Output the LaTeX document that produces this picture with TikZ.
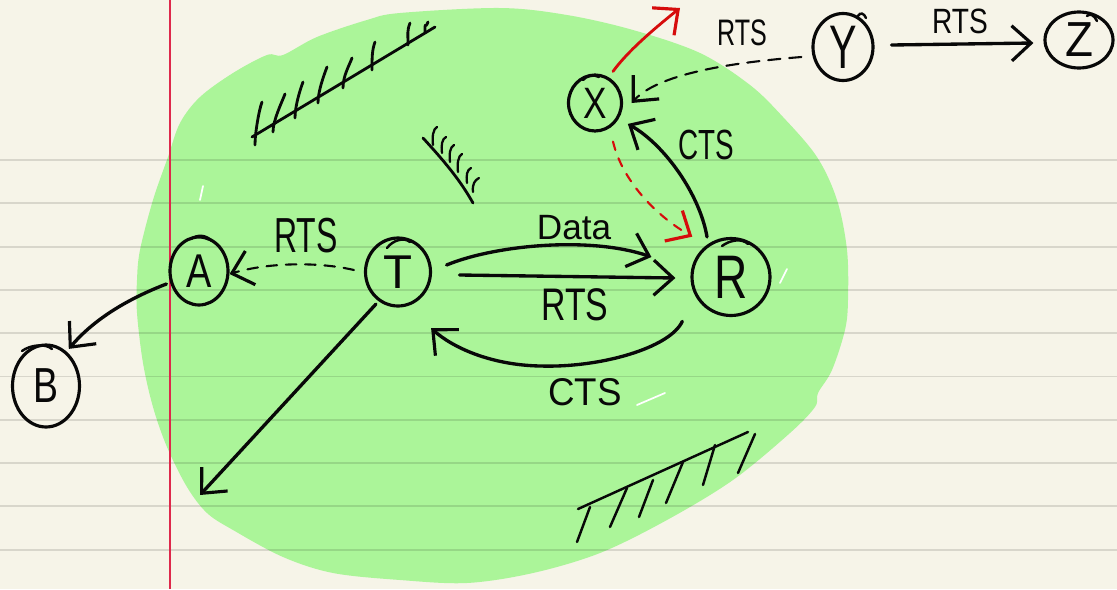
\documentclass[tikz,border=0pt]{standalone}
\usepackage{fontspec}
\setmainfont{Liberation Sans}
\usepackage{graphicx}
\usetikzlibrary{arrows.meta,shapes.geometric}

\definecolor{paper}{RGB}{246,244,232}
\definecolor{marker}{RGB}{171,245,153}
\definecolor{ink}{RGB}{8,8,8}
\definecolor{redink}{RGB}{214,12,12}
\definecolor{marginred}{RGB}{222,40,75}

% handwritten-looking label: horizontal squeeze, font size in pt, text
\newcommand{\hw}[3]{\scalebox{#1}[1]{\fontsize{#2pt}{#2pt}\selectfont #3}}

\begin{document}
\begin{tikzpicture}[x=0.02cm,y=-0.02cm,
  station/.style={draw=ink, ellipse, line width=1.8pt, inner sep=0pt, text=ink},
  tip/.style={-{Straight Barb[length=11pt,width=20pt,line width=1.8pt]}},
  link/.style={draw=ink, line width=1.9pt, line cap=round, tip},
  dashlink/.style={link, line width=1.2pt, dash pattern=on 6pt off 5pt},
  redlink/.style={link, draw=redink, line width=1.6pt},
  reddash/.style={redlink, line width=1.2pt, dash pattern=on 5pt off 5pt},
  wall/.style={draw=ink, line width=1.6pt, line cap=round},
  penstart/.style={draw=ink, line width=1.4pt, line cap=round},
  lbl/.style={inner sep=0pt, text=ink},
  glint/.style={draw=white, line width=1pt, line cap=round}
]
% paper
\useasboundingbox (0,0) rectangle (1117,589);
\fill[paper] (0,0) rectangle (1117,589);

% highlighter blob
\fill[marker] plot[smooth cycle, tension=0.55] coordinates {
  (168,157) (180,123) (200,97) (233,73) (267,55) (283,55) (317,37) (367,20)
  (400,13) (500,8) (567,15) (633,30) (700,53) (750,85) (783,117) (817,157)
  (837,200) (847,250) (848,300) (845,330) (832,370) (818,393) (815,407)
  (790,433) (733,480) (667,520) (600,553) (533,573) (467,583) (400,580)
  (333,573) (283,557) (233,530) (207,513) (187,487) (167,447) (153,407)
  (143,363) (137,313) (137,280) (140,250) (153,200)};

% ruled lines
\foreach \k in {0,...,9}
  \draw[black, opacity=0.12, line width=1.1pt] (0,160+43.3*\k) -- (1117,160+43.3*\k);

% margin rule
\begin{scope}
  \fill[marginred] (168.6,0) rectangle (170.6,589);
\end{scope}

% small glints in the highlighter
\draw[glint] (200,200) -- (203,186);
\draw[glint] (637,405) -- (665,393);
\draw[glint] (780,283) -- (787,269);

% stations
\node[station, minimum width=1.16cm, minimum height=1.36cm] (A) at (199,271) {\hw{0.8}{27}{A}};
\node[station, minimum width=1.30cm, minimum height=1.36cm] (T) at (398,272) {\hw{1.0}{27}{T}};
\node[station, minimum width=1.56cm, minimum height=1.54cm] (R) at (731,277) {\hw{0.75}{35}{R}};
\node[station, minimum width=1.06cm, minimum height=1.12cm] (X) at (595,103) {\hw{0.8}{25}{X}};
\node[station, minimum width=1.20cm, minimum height=1.34cm] (Y) at (843,47) {\hw{0.67}{35}{Y}};
\node[station, minimum width=1.36cm, minimum height=1.12cm] (Z) at (1079,40) {\hw{0.93}{28}{Z}};
\node[station, minimum width=1.34cm, minimum height=1.64cm] (B) at (46,386) {\hw{0.76}{28}{B}};

% pen-start flicks where each circle was begun
\draw[penstart] (191,239) .. controls (198,234) and (206,235) .. (212,241);
\draw[penstart] (387,248) .. controls (393,240) and (404,237) .. (410,242);
\draw[penstart] (722,246) .. controls (730,240) and (742,238) .. (748,244);
\draw[penstart] (583,80) .. controls (586,76) and (594,74) .. (599,77);
\draw[penstart] (858,16) .. controls (860,12) and (864,13) .. (866,18);
\draw[penstart] (1087,16) .. controls (1090,13) and (1094,15) .. (1097,21);
\draw[penstart] (22,351) .. controls (30,345) and (45,343) .. (52,349);

% free ends
\coordinate (sw) at (200,495);
\coordinate (up) at (680,8);

% connectors
\draw[dashlink] ([xshift=-0.2cm,yshift=0.04cm]T.west)
  .. controls (320,262) and (270,262) .. ([yshift=-0.06cm]A.east);
\draw[link] ([xshift=-0.04cm,yshift=-0.26cm]A.west)
  .. controls (130,298) and (95,318) .. ([xshift=-0.04cm,yshift=0.14cm]B.north east);
\draw[link] ([xshift=0.04cm,yshift=-0.14cm]T.south west) -- (sw);
\draw[link] ([xshift=0.29cm,yshift=0.14cm]T.east)
  .. controls (495,245) and (590,236) .. ([xshift=-0.78cm,yshift=0.4cm]R.west);
\draw[link] ([xshift=0.55cm,yshift=-0.06cm]T.east) -- ([xshift=-0.3cm,yshift=-0.02cm]R.west);
\draw[link] ([xshift=-0.4cm,yshift=-0.32cm]R.south west)
  .. controls (670,348) and (600,368) .. (540,366)
  .. controls (490,365) and (452,347) .. ([xshift=0.18cm,yshift=-0.62cm]T.south east);
\draw[link] ([xshift=-0.48cm]R.north)
  .. controls (700,195) and (665,145) .. ([xshift=0.26cm]X.south east);
\draw[reddash] ([xshift=0.36cm,yshift=-0.18cm]X.south)
  .. controls (622,180) and (655,215) .. ([xshift=-0.2cm,yshift=0.24cm]R.north west);
\draw[redlink] ([xshift=0.36cm,yshift=0.04cm]X.north)
  .. controls (625,55) and (645,36) .. (up);
\draw[dashlink, dash pattern=on 7pt off 5pt] ([xshift=-0.2cm,yshift=-0.2cm]Y.west)
  .. controls (740,62) and (660,72) .. ([xshift=0.17cm]X.east);
\draw[link] ([xshift=0.34cm,yshift=0.04cm]Y.east) -- ([xshift=-0.2cm,yshift=-0.06cm]Z.west);

% labels
\node[lbl] (lRTSa) at (306,236) {\hw{0.65}{28}{RTS}};
\node[lbl] (lData) at (574,228) {\hw{1.0}{20}{Data}};
\node[lbl] (lRTSm) at (575,305) {\hw{0.74}{26}{RTS}};
\node[lbl] (lCTSb) at (585,392) {\hw{0.95}{22}{CTS}};
\node[lbl] (lCTSx) at (706,145) {\hw{0.66}{24}{CTS}};
\node[lbl] (lRTSy) at (742,33) {\hw{0.68}{21}{RTS}};
\node[lbl] (lRTSz) at (960,21) {\hw{0.8}{20}{RTS}};

% walls (obstacles)
\draw[wall] (252,137) -- (435,27);
\foreach \a/\b/\c/\d in {255/145/262/102, 273/132/285/94, 295/118/303/82,
    318/103/327/67, 343/88/352/58, 372/70/375/42, 408/45/410/23, 425/32/428/22}
  \draw[wall] (\a,\b) .. controls (\a,\b-12) and (\c-3,\d+8) .. (\c,\d);

\draw[wall] (423,138) .. controls (445,162) and (460,180) .. (473,203);
\foreach \a/\b/\c/\d in {433/145/437/127, 442/153/446/137, 450/162/454/145,
    458/172/462/154, 467/183/471/168, 473/192/479/178}
  \draw[wall, line width=1.3pt] (\a,\b) .. controls (\a-1,\b-8) and (\c-4,\d+2) .. (\c,\d);

\draw[wall, line width=1.4pt] (578,509) -- (748,432);
\foreach \a/\b/\c/\d in {590/507/577/542, 627/488/610/527, 653/480/639/517,
    683/462/666/503, 715/445/703/485, 755/434/738/473}
  \draw[wall, line width=1.4pt] (\a,\b) -- (\c,\d);
\end{tikzpicture}
\end{document}
